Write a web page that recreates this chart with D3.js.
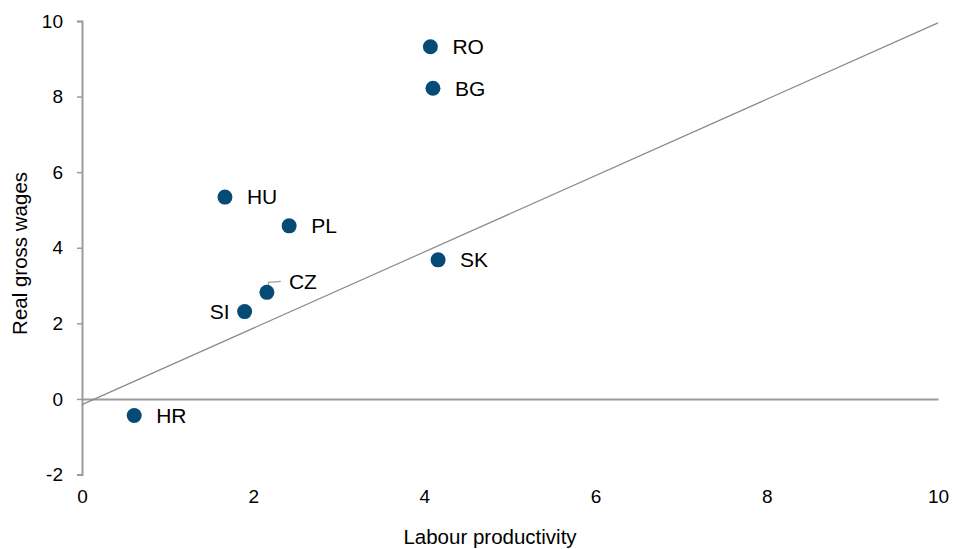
<!DOCTYPE html>
<html>
<head>
<meta charset="utf-8">
<script src="https://cdn.jsdelivr.net/npm/d3@7"></script>
<style>
  body { margin: 0; background: #fff; }
  svg { font-family: "Liberation Sans", Arial, sans-serif; }
</style>
</head>
<body>
<svg id="svg" width="955" height="549"></svg>
<script>
const svg = d3.select("#svg");

const countries = ["RO", "BG", "HU", "PL", "SK", "CZ", "SI", "HR"];
const productivity = [4.07, 4.10, 1.67, 2.42, 4.16, 2.16, 1.90, 0.61];
const wages = [9.32, 8.22, 5.34, 4.58, 3.68, 2.82, 2.31, -0.44];
// label side: 1 = right of the dot, -1 = left
const labelSide = [1, 1, 1, 1, 1, 1, -1, 1];

const xTicks = [0, 2, 4, 6, 8, 10];
const yTicks = [-2, 0, 2, 4, 6, 8, 10];

// reference line through the cloud (end points)
const refLine = [
  { x: 0, y: -0.15 },
  { x: 10, y: 9.95 },
];

const points = countries.map((c, i) => ({
  name: c,
  x: productivity[i],
  y: wages[i],
  side: labelSide[i],
}));

const x = d3.scaleLinear().domain([0, 10]).range([82, 938]);
const y = d3.scaleLinear().domain([-2, 10]).range([474.5, 21]);

const axisColor = "#9b9b9b";
// plain hyphen for negatives, like the original
const fmt = (d) => String(d);

// y axis with outward ticks
const yAxis = svg
  .append("g")
  .attr("transform", `translate(${x(0)},0)`)
  .call(d3.axisLeft(y).tickValues(yTicks).tickFormat(fmt).tickSize(5).tickPadding(14).tickSizeOuter(5));
yAxis.select(".domain").attr("stroke", axisColor).attr("stroke-width", 2);
yAxis.selectAll(".tick line").attr("stroke", axisColor).attr("stroke-width", 1.5);
yAxis.selectAll(".tick text").style("font-size", "19px").attr("fill", "#000");

// horizontal zero line acts as the x axis
const zeroAxis = svg
  .append("g")
  .attr("transform", `translate(0,${y(0)})`)
  .call(d3.axisBottom(x).tickValues([]).tickSizeOuter(0));
zeroAxis.select(".domain").attr("stroke", axisColor).attr("stroke-width", 2);

// x tick labels sit at the bottom, no line
const xAxis = svg
  .append("g")
  .attr("transform", `translate(0,${y(-2)})`)
  .call(d3.axisBottom(x).tickValues(xTicks).tickFormat(fmt).tickSize(0).tickPadding(15));
xAxis.select(".domain").remove();
xAxis.selectAll(".tick text").style("font-size", "19px").attr("fill", "#000");

// diagonal line
svg
  .append("path")
  .datum(refLine)
  .attr("fill", "none")
  .attr("stroke", "#8a8a8a")
  .attr("stroke-width", 1.2)
  .attr("d", d3.line().x((d) => x(d.x)).y((d) => y(d.y)));

// leader line for CZ label
const cz = points.find((d) => d.name === "CZ");
svg
  .append("polyline")
  .attr("fill", "none")
  .attr("stroke", "#a0a0a0")
  .attr("stroke-width", 1.2)
  .attr("points", [
    [x(cz.x) + 0.5, y(cz.y)],
    [x(cz.x) + 1.5, y(cz.y) - 10],
    [x(cz.x) + 14, y(cz.y) - 11],
  ].join(" "));

// dots
svg
  .append("g")
  .selectAll("circle")
  .data(points)
  .join("circle")
  .attr("cx", (d) => x(d.x))
  .attr("cy", (d) => y(d.y))
  .attr("r", 7.5)
  .attr("fill", "#064a76");

// labels
svg
  .append("g")
  .selectAll("text")
  .data(points)
  .join("text")
  .attr("x", (d) => (d.name === "CZ" ? x(d.x) + 22 : x(d.x) + d.side * (d.side > 0 ? 22 : 15)))
  .attr("y", (d) => (d.name === "CZ" ? y(d.y) - 11 : y(d.y)))
  .attr("dy", "0.35em")
  .attr("text-anchor", (d) => (d.side > 0 ? "start" : "end"))
  .style("font-size", "21px")
  .attr("fill", "#000")
  .text((d) => d.name);

// axis titles
svg
  .append("text")
  .attr("x", 490)
  .attr("y", 537)
  .attr("dy", "0.35em")
  .attr("text-anchor", "middle")
  .style("font-size", "20.5px")
  .text("Labour productivity");

svg
  .append("text")
  .attr("transform", `translate(20,${y(3.85)}) rotate(-90)`)
  .attr("dy", "0.35em")
  .attr("text-anchor", "middle")
  .style("font-size", "20.5px")
  .text("Real gross wages");
</script>
</body>
</html>
